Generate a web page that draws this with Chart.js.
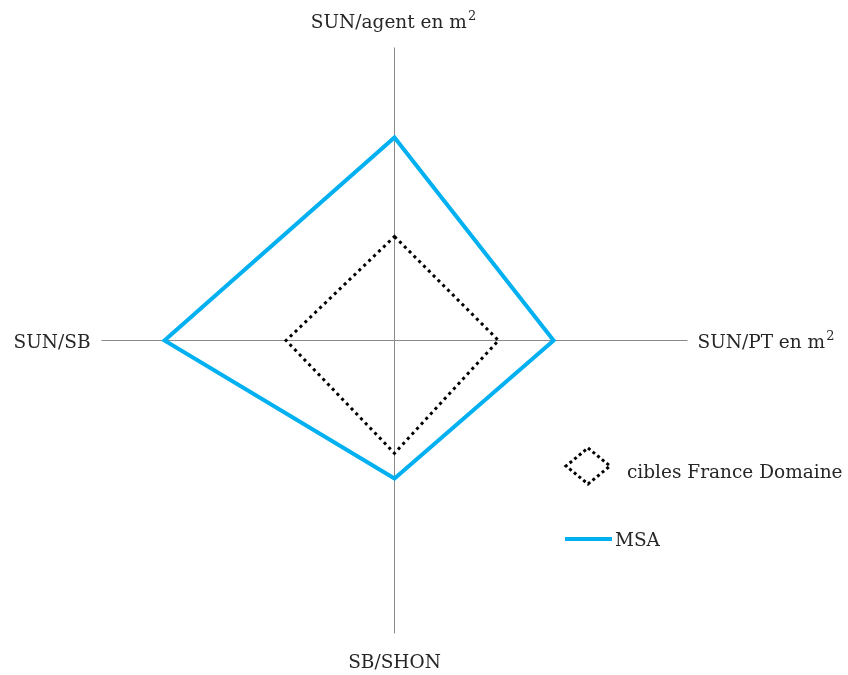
<!DOCTYPE html>
<html>
<head>
<meta charset="utf-8">
<script src="https://cdn.jsdelivr.net/npm/chart.js@4/dist/chart.umd.min.js"></script>
<style>
  html, body { margin: 0; padding: 0; background: #fff; }
  #wrap { position: relative; width: 848px; height: 675px; }
</style>
</head>
<body>
<div id="wrap"><canvas id="c"></canvas></div>
<script>
// ---- data ----
const axisLabels = ['SUN/agent en m²', 'SUN/PT en m²', 'SB/SHON', 'SUN/SB'];
const seriesNames = ['cibles France Domaine', 'MSA'];
const ciblesValues = [35.5, 35.5, 38.5, 37];
const msaValues = [69.3, 54.3, 47.1, 78.5];
const scaleMin = 0;
const scaleMax = 100;

const FONT = '18.5px "DejaVu Serif", serif';
const SUP_FONT = '13px "DejaVu Serif", serif';
const TEXT_COLOR = '#262626';

// draws a label, rendering a trailing "²" as a raised, smaller "2"
function drawLabel(ctx, text, x, y, align) {
  const idx = text.indexOf('²');
  const base = idx >= 0 ? text.slice(0, idx) : text;
  const sup = idx >= 0 ? '2' : '';
  ctx.font = FONT;
  const wBase = ctx.measureText(base).width;
  ctx.font = SUP_FONT;
  const wSup = sup ? ctx.measureText(sup).width + 1 : 0;
  const total = wBase + wSup;
  let x0 = x;
  if (align === 'center') x0 = x - total / 2;
  else if (align === 'right') x0 = x - total;
  ctx.textAlign = 'left';
  ctx.font = FONT;
  ctx.fillText(base, x0, y);
  if (sup) {
    ctx.font = SUP_FONT;
    ctx.fillText(sup, x0 + wBase + 1, y - 8);
  }
}

const pointLabelPlugin = {
  id: 'pointLabelPlugin',
  afterDraw(chart) {
    const s = chart.scales.r;
    const ctx = chart.ctx;
    const R = s.drawingArea;
    ctx.save();
    ctx.fillStyle = TEXT_COLOR;
    ctx.textBaseline = 'alphabetic';
    // index 0: top, 1: right, 2: bottom, 3: left
    const specs = [
      { d: 20, align: 'center', dx: -1, dy: 0 },
      { d: 10, align: 'left', dx: 0, dy: 7 },
      { d: 34, align: 'center', dx: 0, dy: 0 },
      { d: 11, align: 'right', dx: 0, dy: 7 }
    ];
    axisLabels.forEach((lab, i) => {
      const sp = specs[i];
      const p = s.getPointPosition(i, R + sp.d);
      drawLabel(ctx, lab, p.x + sp.dx, p.y + sp.dy, sp.align);
    });
    ctx.restore();
  }
};

const legendPlugin = {
  id: 'customLegend',
  afterDraw(chart) {
    const ctx = chart.ctx;
    const ds = chart.data.datasets;
    ctx.save();
    // dotted diamond marker
    const cx = 588, cy = 466, hw = 22, hh = 18;
    ctx.strokeStyle = ds[0].borderColor;
    ctx.lineWidth = 3;
    ctx.setLineDash([3, 3]);
    ctx.beginPath();
    ctx.moveTo(cx, cy - hh);
    ctx.lineTo(cx + hw, cy);
    ctx.lineTo(cx, cy + hh);
    ctx.lineTo(cx - hw, cy);
    ctx.closePath();
    ctx.stroke();
    // solid line marker
    ctx.setLineDash([]);
    ctx.strokeStyle = ds[1].borderColor;
    ctx.lineWidth = 4;
    ctx.beginPath();
    ctx.moveTo(565, 539);
    ctx.lineTo(612, 539);
    ctx.stroke();
    // texts
    ctx.font = FONT;
    ctx.fillStyle = TEXT_COLOR;
    ctx.textAlign = 'left';
    ctx.textBaseline = 'alphabetic';
    ctx.fillText(ds[0].label, 627, 478);
    ctx.fillText(ds[1].label, 615, 546);
    ctx.restore();
  }
};

new Chart(document.getElementById('c'), {
  type: 'radar',
  data: {
    labels: axisLabels,
    datasets: [
      {
        label: seriesNames[0],
        data: ciblesValues,
        borderColor: '#000000',
        borderWidth: 3,
        borderDash: [3, 3.8],
        borderCapStyle: 'butt',
        borderJoinStyle: 'miter',
        fill: false,
        pointRadius: 0,
        pointHoverRadius: 0,
        tension: 0
      },
      {
        label: seriesNames[1],
        data: msaValues,
        borderColor: '#00B0F0',
        borderWidth: 4,
        borderJoinStyle: 'miter',
        fill: false,
        pointRadius: 0,
        pointHoverRadius: 0,
        tension: 0
      }
    ]
  },
  options: {
    responsive: true,
    maintainAspectRatio: false,
    animation: false,
    layout: { padding: { left: 101, right: 161, top: 47, bottom: 42 } },
    plugins: {
      legend: { display: false },
      tooltip: { enabled: false }
    },
    scales: {
      r: {
        min: scaleMin,
        max: scaleMax,
        ticks: { display: false },
        grid: { display: false },
        pointLabels: { display: false },
        angleLines: { display: true, color: '#8a8a8a', lineWidth: 1 },
        afterFit(scale) {
          // align the 1px axis lines on the pixel grid
          scale.xCenter += 0.5;
          scale.yCenter += 0.5;
        }
      }
    }
  },
  plugins: [pointLabelPlugin, legendPlugin]
});
</script>
</body>
</html>
